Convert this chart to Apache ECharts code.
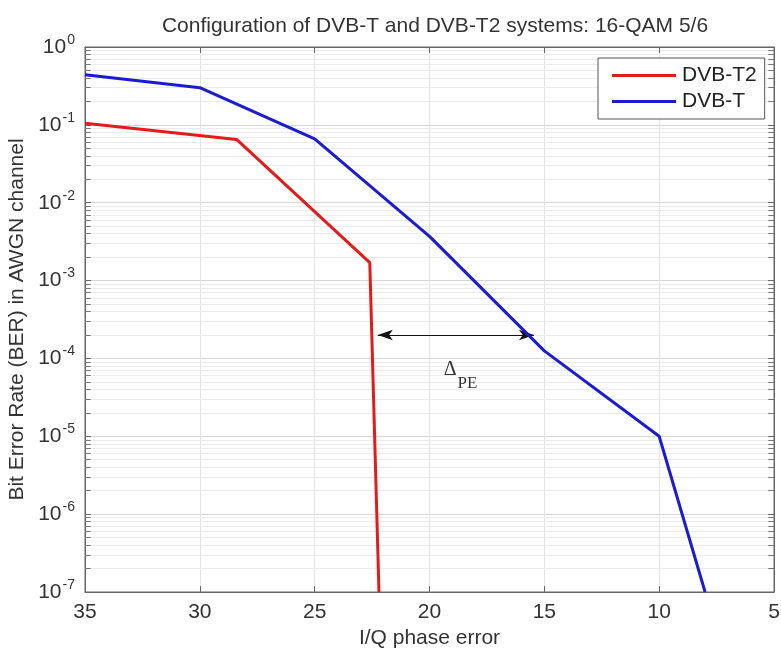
<!DOCTYPE html>
<html>
<head>
<meta charset="utf-8">
<script src="https://cdn.jsdelivr.net/npm/echarts@6/dist/echarts.min.js"></script>
<style>
  html, body { margin: 0; padding: 0; background: #fff; }
  #chart { width: 781px; height: 648px; }
</style>
</head>
<body>
<div id="chart"></div>
<script>
// data
const dvbtPhase = [35, 30, 25, 20, 15, 10, 8];
const dvbtBer = [0.44, 0.30, 0.066, 0.0037, 1.25e-4, 1e-5, 1e-7];
const dvbt2Phase = [35, 28.4, 22.6, 22.2];
const dvbt2Ber = [0.105, 0.065, 1.7e-3, 1e-7];

// delta annotation (data coords)
const deltaFrom = [22.25, 2e-4];
const deltaTo = [15.45, 2e-4];
const deltaLabelAt = [18.65, 6.0e-5];

// minor log grid: 2..9 in each decade
const decades = [-7, -6, -5, -4, -3, -2, -1];
const minorMult = [2, 3, 4, 5, 6, 7, 8, 9];

const font = "Liberation Sans, Arial, sans-serif";
const minorVals = [];
decades.forEach((d) => minorMult.forEach((m) => minorVals.push(m * Math.pow(10, d))));

const minorLines = minorVals.map((v) => [{ coord: [35, v] }, { coord: [5, v] }]);
const minorTicks = [];
minorVals.forEach((v) => {
  minorTicks.push([{ coord: [35, v] }, { coord: [34.75, v] }]);
  minorTicks.push([{ coord: [5, v] }, { coord: [5.25, v] }]);
});

const chart = echarts.init(document.getElementById("chart"));

const expLabel = (val) => {
  const e = Math.round(Math.log10(val));
  return "{b|10}{s|" + e + "}";
};

chart.setOption({
  animation: false,
  title: {
    text: "Configuration of DVB-T and DVB-T2 systems: 16-QAM 5/6",
    left: 430,
    textAlign: "center",
    top: 11,
    textStyle: { fontFamily: font, fontSize: 21, fontWeight: "normal", color: "#333" },
  },
  grid: {
    left: 85,
    right: 7,
    top: 47,
    bottom: 56,
    outerBoundsMode: "none",
    containLabel: false,
    show: true,
    borderColor: "#666",
    borderWidth: 1,
  },
  legend: {
    left: 598,
    top: 58,
    orient: "vertical",
    icon: "rect",
    itemWidth: 64,
    itemHeight: 3,
    itemGap: 5,
    padding: [7, 8, 7, 14],
    borderColor: "#555",
    borderWidth: 1,
    backgroundColor: "#fff",
    textStyle: { fontFamily: font, fontSize: 21, color: "#222", padding: [0, 0, 0, 1] },
    data: ["DVB-T2", "DVB-T"],
  },
  xAxis: [
    {
      type: "value",
      min: 5,
      max: 35,
      interval: 5,
      inverse: true,
      name: "I/Q phase error",
      nameLocation: "middle",
      nameGap: 35,
      nameTextStyle: { fontFamily: font, fontSize: 21, color: "#333" },
      axisLine: { lineStyle: { color: "#666" } },
      axisTick: { inside: true, length: 6, lineStyle: { color: "#666" } },
      axisLabel: { fontFamily: font, fontSize: 21, color: "#333", margin: 10 },
      splitLine: { show: true, lineStyle: { color: "#e4e4e4" } },
    },
    {
      type: "value",
      position: "top",
      min: 5,
      max: 35,
      interval: 5,
      inverse: true,
      axisLine: { lineStyle: { color: "#666" } },
      axisTick: { inside: true, length: 6, lineStyle: { color: "#666" } },
      axisLabel: { show: false },
      splitLine: { show: false },
    },
  ],
  yAxis: [
    {
      type: "log",
      logBase: 10,
      min: 1e-7,
      max: 1,
      interval: 1,
      name: "Bit Error Rate (BER) in AWGN channel",
      nameLocation: "middle",
      nameGap: 56,
      nameTextStyle: { fontFamily: font, fontSize: 21, color: "#333" },
      axisLine: { lineStyle: { color: "#666" } },
      axisTick: { inside: true, length: 6, lineStyle: { color: "#666" } },
      axisLabel: {
        margin: 10,
        formatter: expLabel,
        rich: {
          b: { fontFamily: font, fontSize: 21, color: "#333" },
          s: { fontFamily: font, fontSize: 14, color: "#333", padding: [0, 0, 14, 1] },
        },
      },
      splitLine: { show: true, lineStyle: { color: "#d6d6d6" } },
    },
    {
      type: "log",
      logBase: 10,
      min: 1e-7,
      max: 1,
      interval: 1,
      position: "right",
      axisLine: { lineStyle: { color: "#666" } },
      axisTick: { inside: true, length: 6, lineStyle: { color: "#666" } },
      axisLabel: { show: false },
      splitLine: { show: false },
    },
  ],
  series: [
    {
      name: "grid-minor",
      type: "line",
      data: [],
      silent: true,
      markLine: {
        silent: true,
        symbol: "none",
        label: { show: false },
        lineStyle: { color: "#ebebeb", width: 1, type: "solid" },
        data: minorLines,
        z: 0,
      },
    },
    {
      name: "tick-minor",
      type: "line",
      data: [],
      silent: true,
      markLine: {
        silent: true,
        symbol: "none",
        label: { show: false },
        lineStyle: { color: "#777", width: 1, type: "solid" },
        data: minorTicks,
      },
    },
    {
      name: "DVB-T2",
      type: "line",
      showSymbol: false,
      symbol: "none",
      color: "#e31b1b",
      lineStyle: { width: 3, color: "#e31b1b" },
      data: dvbt2Phase.map((x, i) => [x, dvbt2Ber[i]]),
      z: 5,
    },
    {
      name: "DVB-T",
      type: "line",
      showSymbol: false,
      symbol: "none",
      color: "#1b1bd0",
      lineStyle: { width: 3, color: "#1b1bd0" },
      data: dvbtPhase.map((x, i) => [x, dvbtBer[i]]),
      z: 5,
      markLine: {
        silent: true,
        symbol: ["arrow", "arrow"],
        symbolSize: [8, 15],
        label: { show: false },
        lineStyle: { color: "#111", width: 1, type: "solid" },
        data: [[{ coord: deltaFrom }, { coord: deltaTo }]],
      },
      markPoint: {
        silent: true,
        symbol: "circle",
        symbolSize: 0,
        data: [
          {
            coord: deltaLabelAt,
            label: {
              show: true,
              position: "inside",
              formatter: "{d|Δ}{p|PE}",
              rich: {
                d: { fontFamily: "Liberation Serif, serif", fontSize: 20, color: "#333", padding: [0, 0, 12, 0] },
                p: { fontFamily: "Liberation Serif, serif", fontSize: 17, color: "#333", padding: [15, 0, 0, 1] },
              },
            },
          },
        ],
      },
    },
  ],
});
</script>
</body>
</html>
